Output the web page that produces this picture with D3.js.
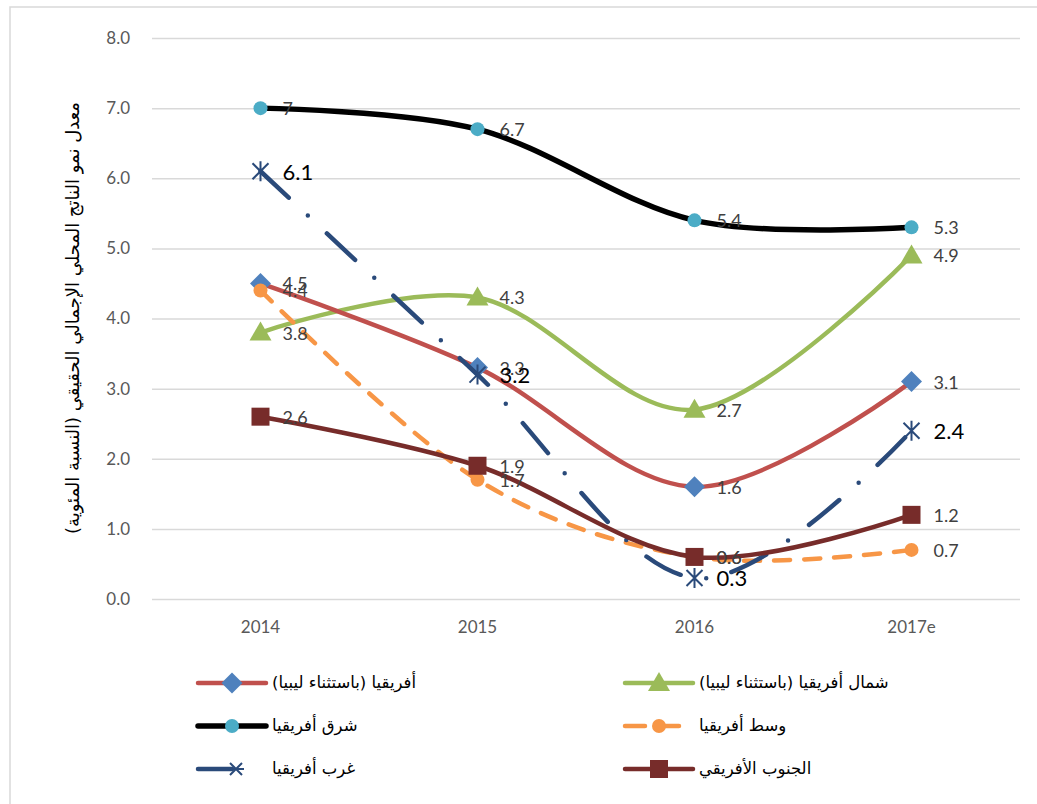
<!DOCTYPE html>
<html>
  <head>
    <meta charset="utf-8">
    <title>معدل نمو الناتج المحلي الإجمالي الحقيقي</title>
    <script src="https://d3js.org/d3.v7.min.js"></script>
    <style>
      body { margin: 0; background: #fff; }
      #chart { display: block; }
      .axis text { font-family: Lato, "Open Sans", sans-serif; font-size: 17px; fill: #595959; }
      .axis path { display: none; }
      .yAxis line { stroke: #d9d9d9; stroke-width: 1.5; }
      .xAxis line { display: none; }
      .ar { font-family: "DejaVu Sans", sans-serif; fill: #000; }
      .lbl { font-family: Lato, "Open Sans", sans-serif; font-size: 18px; fill: #404040; }
      .lbl.big { font-size: 22px; fill: #000; }
    </style>
  </head>
  <body>
    <svg id="chart" width="1037" height="804">
      <rect x="10" y="7" width="1040" height="810" fill="#fff" stroke="#d9d9d9" stroke-width="1.5"></rect>
      <g id="yAxisGroup" class="axis yAxis"></g>
      <g id="xAxisGroup" class="axis xAxis"></g>
      <g id="chartGroup"></g>
      <g id="labelGroup"></g>
      <g id="legendGroup"></g>
    </svg>
    <script>
      // data
      var years = ["2014", "2015", "2016", "2017e"];
      var yTicks = [0, 1, 2, 3, 4, 5, 6, 7, 8];
      var africa = [4.5, 3.3, 1.6, 3.1];
      var northAfrica = [3.8, 4.3, 2.7, 4.9];
      var eastAfrica = [7, 6.7, 5.4, 5.3];
      var centralAfrica = [4.4, 1.7, 0.6, 0.7];
      var westAfrica = [6.1, 3.2, 0.3, 2.4];
      var southernAfrica = [2.6, 1.9, 0.6, 1.2];
      var seriesNames = [
        "أفريقيا (باستثناء ليبيا)",
        "شمال أفريقيا (باستثناء ليبيا)",
        "شرق أفريقيا",
        "وسط أفريقيا",
        "غرب أفريقيا",
        "الجنوب الأفريقي"
      ];
      var yTitle = "معدل نمو الناتج المحلي الإجمالي الحقيقي  (النسبة المئوية)";

      var series = [
        { name: seriesNames[0], values: africa, line: "#C0504D", fill: "#4F81BD", marker: "diamond", width: 4.5 },
        { name: seriesNames[1], values: northAfrica, line: "#9BBB59", fill: "#9BBB59", marker: "triangle", width: 4.5 },
        { name: seriesNames[2], values: eastAfrica, line: "#000000", fill: "#4BACC6", marker: "circle", width: 5.5 },
        { name: seriesNames[3], values: centralAfrica, line: "#F79646", fill: "#F79646", marker: "circle", width: 4.5, dash: "16,14", legendDash: "20,14" },
        { name: seriesNames[4], values: westAfrica, line: "#2A4A7A", fill: "#2A4A7A", marker: "star", width: 4.5, dash: "39,26,0,26", legendDash: "34,100", big: true },
        { name: seriesNames[5], values: southernAfrica, line: "#772C2A", fill: "#772C2A", marker: "square", width: 4.5 }
      ];
      // draw order as in the reference (west and southern on top)
      var drawOrder = [1, 2, 0, 3, 4, 5];

      var margin = { top: 38, right: 17, bottom: 205, left: 152 };
      var width = 1037, height = 804;
      var plotW = width - margin.left - margin.right;
      var plotH = height - margin.top - margin.bottom;

      var x = d3.scaleBand().domain(years).range([margin.left, margin.left + plotW]).paddingInner(0).paddingOuter(0);
      var y = d3.scaleLinear().domain([0, 8]).range([margin.top + plotH, margin.top]);
      function cx(i) { return x(years[i]) + x.bandwidth() / 2; }

      var svg = d3.select("#chart");

      // axes
      var yAxis = d3.axisLeft(y).tickValues(yTicks).tickFormat(d3.format(".1f"))
        .tickSizeInner(-plotW).tickSizeOuter(0).tickPadding(22);
      d3.select("#yAxisGroup").attr("transform", "translate(" + margin.left + ",0)").call(yAxis);
      var xAxis = d3.axisBottom(x).tickSizeInner(0).tickSizeOuter(0).tickPadding(22);
      d3.select("#xAxisGroup").attr("transform", "translate(0," + (margin.top + plotH) + ")").call(xAxis);

      // y title
      svg.append("text")
        .attr("class", "ar")
        .attr("transform", "translate(74," + (margin.top + 280) + ") rotate(-90)")
        .attr("text-anchor", "middle")
        .attr("dominant-baseline", "middle")
        .style("font-size", "18px")
        .text(yTitle + "\u200F");

      // markers
      function drawMarker(g, s, px, py, small) {
        if (s.marker === "circle") {
          g.append("circle").attr("cx", px).attr("cy", py).attr("r", 7).attr("fill", s.fill);
        } else if (s.marker === "diamond") {
          g.append("path").attr("d", "M0,-10.5L10.5,0L0,10.5L-10.5,0Z")
            .attr("transform", "translate(" + px + "," + py + ")").attr("fill", s.fill);
        } else if (s.marker === "triangle") {
          g.append("path").attr("d", "M0,-11L11,8L-11,8Z")
            .attr("transform", "translate(" + px + "," + py + ")").attr("fill", s.fill);
        } else if (s.marker === "square") {
          g.append("rect").attr("x", px - 9).attr("y", py - 9).attr("width", 18).attr("height", 18).attr("fill", s.fill);
        } else if (s.marker === "star") {
          var r = small ? 6 : 8;
          g.append("path").attr("d", "M" + -r + "," + -r + "L" + r + "," + r + "M" + -r + "," + r + "L" + r + "," + -r + "M0," + -(r + 2) + "L0," + (r + 2))
            .attr("transform", "translate(" + px + "," + py + ")" + (small ? " rotate(90)" : ""))
            .attr("stroke", s.fill).attr("stroke-width", 2).attr("fill", "none");
        }
      }

      var line = d3.line()
        .x(function(d, i) { return cx(i); })
        .y(function(d) { return y(d); })
        .curve(d3.curveCatmullRom.alpha(0));

      var chartGroup = d3.select("#chartGroup");
      drawOrder.forEach(function(k) {
        var s = series[k];
        var g = chartGroup.append("g");
        g.append("path")
          .attr("d", line(s.values))
          .attr("fill", "none")
          .attr("stroke", s.line)
          .attr("stroke-width", s.width)
          .attr("stroke-linecap", "round")
          .attr("stroke-dasharray", s.dash || null);
        s.values.forEach(function(v, i) { drawMarker(g, s, cx(i), y(v)); });
      });

      // data labels
      var labelGroup = d3.select("#labelGroup");
      drawOrder.forEach(function(k) {
        var s = series[k];
        s.values.forEach(function(v, i) {
          labelGroup.append("text")
            .attr("class", s.big ? "lbl big" : "lbl")
            .attr("x", cx(i) + 22)
            .attr("y", y(v))
            .attr("dominant-baseline", "central")
            .text(v === 7 ? "7" : d3.format(".1f")(v));
        });
      });

      // legend
      var legendGroup = d3.select("#legendGroup");
      var legendX = [196, 623], legendY = [683, 726, 769];
      series.forEach(function(s, k) {
        var lx = legendX[k % 2], ly = legendY[Math.floor(k / 2)];
        var g = legendGroup.append("g");
        g.append("line")
          .attr("x1", lx + 2).attr("x2", lx + 70).attr("y1", ly).attr("y2", ly)
          .attr("stroke", s.line).attr("stroke-width", s.width)
          .attr("stroke-linecap", "round")
          .attr("stroke-dasharray", s.legendDash || null);
        drawMarker(g, s, s.marker === "star" ? lx + 40 : lx + 36, ly, true);
        g.append("text")
          .attr("class", "ar")
          .attr("x", lx + 76)
          .attr("y", ly)
          .attr("dominant-baseline", "middle")
          .style("font-size", "16.5px")
          .text(s.name + "\u200F");
      });
    </script>
  </body>
</html>
